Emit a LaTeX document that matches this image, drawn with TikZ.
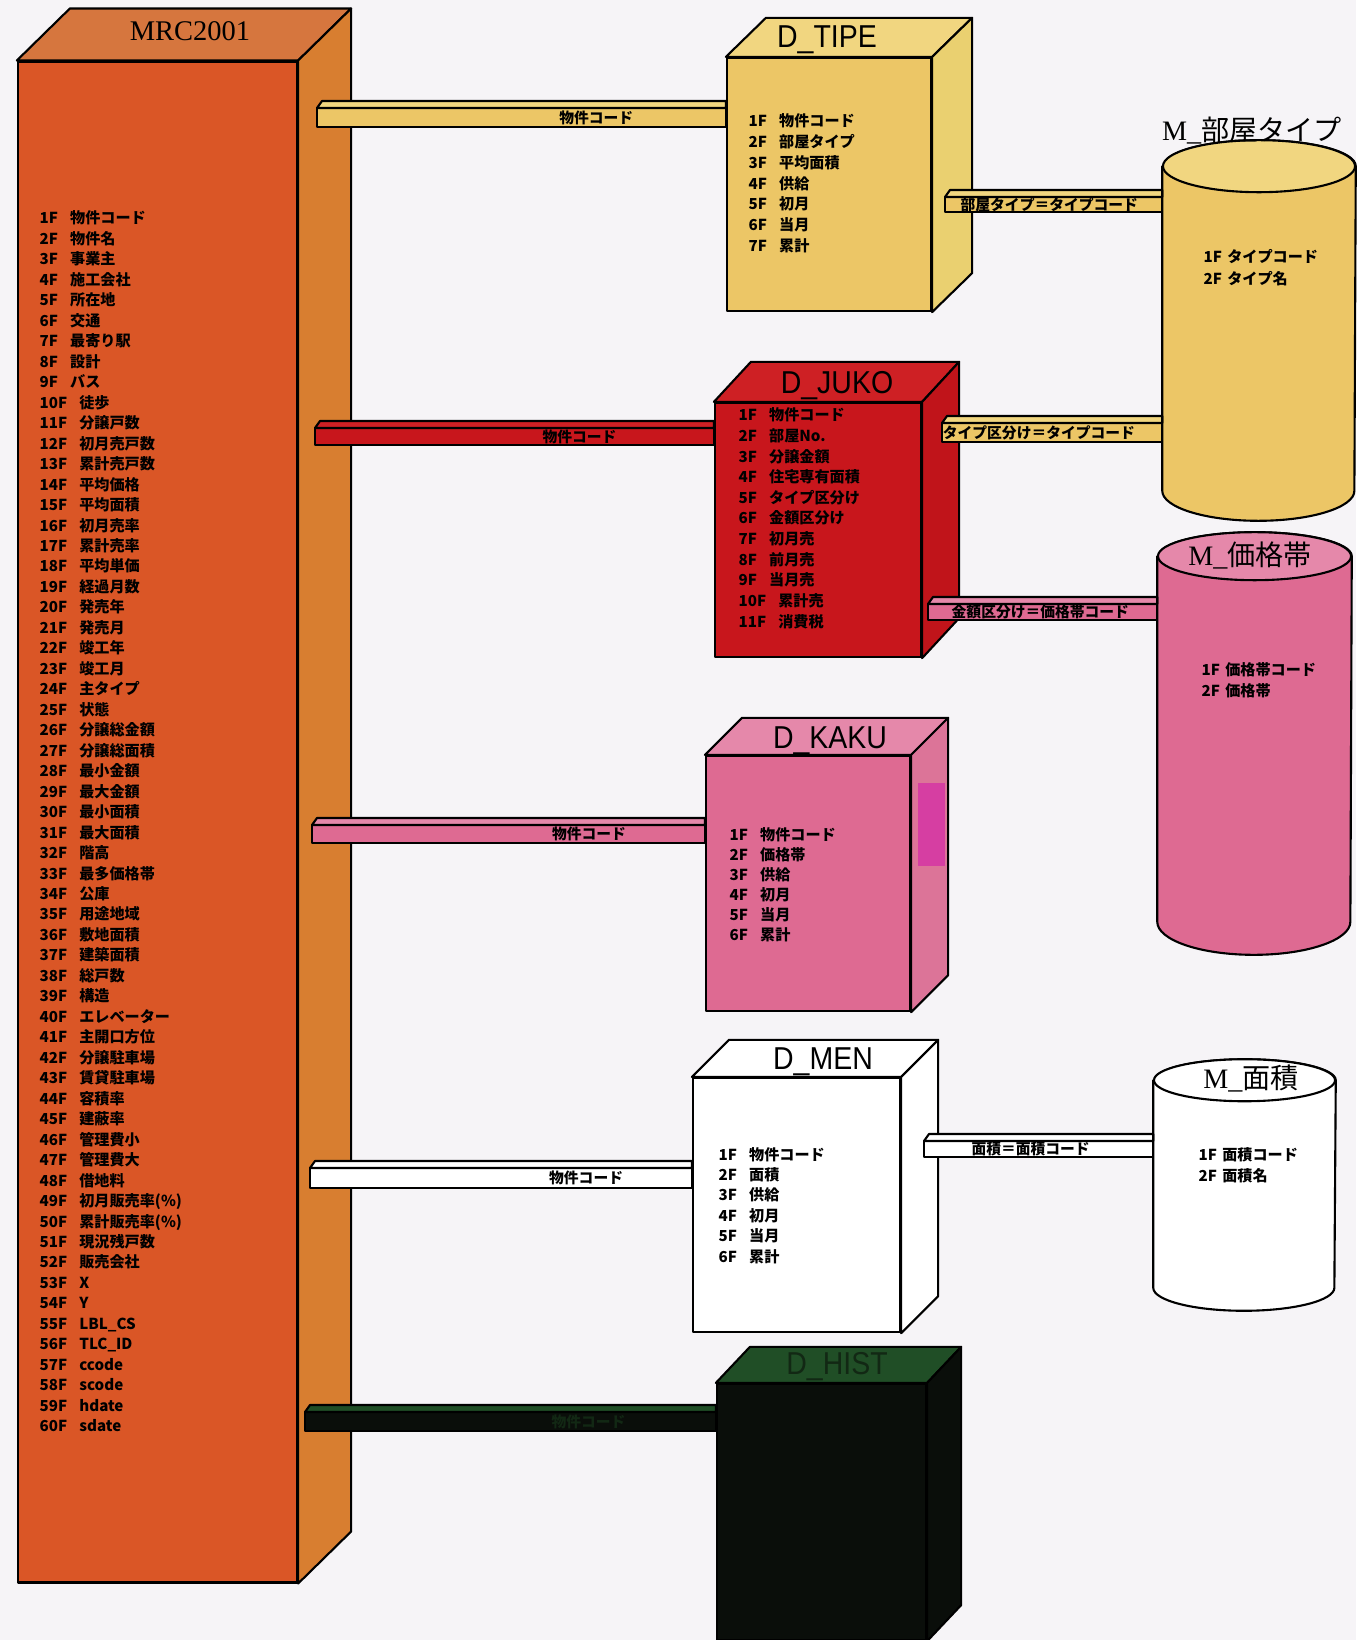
\documentclass[tikz,border=0pt]{standalone}
\usepackage{fontspec}
\usepackage{xcolor}
\usepackage{tikz}
\usetikzlibrary{calc}

\newfontfamily\jp{Noto Sans CJK JP}
\newfontfamily\titlefont[FakeStretch=0.9]{Liberation Sans}
\newfontfamily\mserif{Liberation Serif}

\definecolor{paper}{RGB}{246,244,247}
\definecolor{mrcfront}{RGB}{218,86,38}
\definecolor{mrctop}{RGB}{214,118,62}
\definecolor{mrcside}{RGB}{216,126,48}
\definecolor{tipecol}{RGB}{236,198,102}
\definecolor{tipetop}{RGB}{241,214,128}
\definecolor{tipeside}{RGB}{234,208,112}
\definecolor{jukocol}{RGB}{200,22,28}
\definecolor{jukotop}{RGB}{206,32,36}
\definecolor{jukoside}{RGB}{192,20,26}
\definecolor{kakucol}{RGB}{222,106,146}
\definecolor{kakutop}{RGB}{229,136,170}
\definecolor{kakuside}{RGB}{220,116,152}
\definecolor{kakumark}{RGB}{214,62,162}
\definecolor{histcol}{RGB}{10,14,10}
\definecolor{histtop}{RGB}{32,78,38}
\definecolor{histtext}{RGB}{18,40,20}

% top and side face of a box whose front face is the node #1
\newcommand\boxfaces[5]{%
  \draw[faceline, fill=#4] (#1.north west) -- ++(#2,#3) -- ($(#1.north east)+(#2,#3)$) -- (#1.north east) -- cycle;
  \draw[faceline, fill=#5] (#1.north east) -- ($(#1.north east)+(#2,#3)$) -- ($(#1.south east)+(#2,#3)$) -- (#1.south east) -- cycle;
}
% flat bar from coordinate #1 to the node anchor #2
\newcommand\linkbar[7]{%
  \draw[faceline, fill=#4] (#1) rectangle ($(#2 |- #1)+(0,#3)$);
  \draw[faceline, fill=#5] (#1) -- ++(5,-7) -- ($(#2 |- #1)+(0,-7)$) -- (#2 |- #1) -- cycle;
  \node[barlabel] (#1-label) at ($(#1)!#7!(#2 |- #1)+(0,#3/2)$) {#6};
}

\begin{document}
\begin{tikzpicture}[x=0.01cm, y=-0.01cm,
    faceline/.style={draw=black, line width=0.6pt, line join=round},
    dbox/.style={faceline, inner sep=0pt},
    cylbody/.style={draw=none, inner sep=0pt},
    field/.style={font=\jp\bfseries\fontsize{4.3pt}{5pt}\selectfont, inner sep=0pt, anchor=base west},
    barlabel/.style={font=\jp\bfseries\fontsize{4.2pt}{5pt}\selectfont, inner sep=0pt},
    dtitle/.style={font=\titlefont\fontsize{9pt}{10pt}\selectfont, inner sep=0pt},
    mtitle/.style={font=\mserif\fontsize{8pt}{9pt}\selectfont, inner sep=0pt}]

  \fill[paper] (0,0) rectangle (1356,1640);
  \useasboundingbox (0,0) rectangle (1356,1640);

  % Nodes
  \node[dbox, fill=mrcfront, minimum width=2.79cm, minimum height=15.2cm] (mrc) at (157.5,822) {};
  \boxfaces{mrc}{53}{-52}{mrctop}{mrcside}
  \node[mtitle, font=\mserif\fontsize{8.1pt}{9pt}\selectfont] (mrc-title) at (190,31) {MRC2001};
  \foreach \f [count=\i] in {物件コード, 物件名, 事業主, 施工会社, 所在地, 交通, 最寄り駅, 設計, バス, 徒歩,
      分譲戸数, 初月売戸数, 累計売戸数, 平均価格, 平均面積, 初月売率, 累計売率, 平均単価, 経過月数, 発売年,
      発売月, 竣工年, 竣工月, 主タイプ, 状態, 分譲総金額, 分譲総面積, 最小金額, 最大金額, 最小面積,
      最大面積, 階高, 最多価格帯, 公庫, 用途地域, 敷地面積, 建築面積, 総戸数, 構造, エレベーター,
      主開口方位, 分譲駐車場, 賃貸駐車場, 容積率, 建蔽率, 管理費小, 管理費大, 借地料, 初月販売率(\%), 累計販売率(\%),
      現況残戸数, 販売会社, X, Y, LBL\_CS, TLC\_ID, ccode, scode, hdate, sdate}
    \node[field] (mrc-f\i) at (39,{224+20.47*(\i-1)}) {\i F\hspace{0.8em}\f};

  \node[dbox, fill=tipecol, minimum width=2.04cm, minimum height=2.53cm] (tipe) at (829,184.5) {};
  \boxfaces{tipe}{40}{-39}{tipetop}{tipeside}
  \node[dtitle] (tipe-title) at (827,40) {D\_TIPE};
  \foreach \f [count=\i] in {物件コード, 部屋タイプ, 平均面積, 供給, 初月, 当月, 累計}
    \node[field] (tipe-f\i) at (748,{127+20.7*(\i-1)}) {\i F\hspace{0.8em}\f};

  \node[dbox, fill=jukocol, minimum width=2.06cm, minimum height=2.54cm] (juko) at (818,530) {};
  \boxfaces{juko}{37}{-40}{jukotop}{jukoside}
  \node[dtitle] (juko-title) at (837,386) {D\_JUKO};
  \foreach \f [count=\i] in {物件コード, 部屋No., 分譲金額, 住宅専有面積, タイプ区分け, 金額区分け, 初月売, 前月売, 当月売, 累計売, 消費税}
    \node[field] (juko-f\i) at (738,{421+20.6*(\i-1)}) {\i F\hspace{0.8em}\f};

  \node[dbox, fill=kakucol, minimum width=2.04cm, minimum height=2.55cm] (kaku) at (808,883.5) {};
  \boxfaces{kaku}{37}{-37}{kakutop}{kakuside}
  \fill[kakumark] (918,783) rectangle (945,866);
  \node[dtitle] (kaku-title) at (830,741) {D\_KAKU};
  \foreach \f [count=\i] in {物件コード, 価格帯, 供給, 初月, 当月, 累計}
    \node[field] (kaku-f\i) at (729,{840+20*(\i-1)}) {\i F\hspace{0.8em}\f};

  \node[dbox, fill=white, minimum width=2.07cm, minimum height=2.54cm] (men) at (796.5,1205) {};
  \boxfaces{men}{37}{-37}{white}{white}
  \node[dtitle] (men-title) at (823,1062) {D\_MEN};
  \foreach \f [count=\i] in {物件コード, 面積, 供給, 初月, 当月, 累計}
    \node[field] (men-f\i) at (718,{1160+20.4*(\i-1)}) {\i F\hspace{0.8em}\f};

  \node[dbox, fill=histcol, minimum width=2.09cm, minimum height=2.56cm] (hist) at (821.5,1512) {};
  \boxfaces{hist}{34}{-36}{histtop}{histcol}
  \node[dtitle, text=histtext] (hist-title) at (837,1367) {D\_HIST};

  % Masters
  \node[cylbody, minimum width=1.92cm, minimum height=3.23cm] (heya) at (1259,328.5) {};
  \draw[faceline, fill=tipecol] (heya.north west) -- (heya.south west)
    arc[start angle=180, end angle=360, x radius=0.96cm, y radius=0.30cm] -- (heya.north east)
    arc[start angle=0, end angle=180, x radius=0.96cm, y radius=0.26cm] -- cycle;
  \draw[faceline, fill=tipetop] (heya.north) ellipse[x radius=0.96cm, y radius=0.26cm];
  \node[mtitle] (heya-title) at (1252,131) {M\_{\jp 部屋タイプ}};
  \foreach \f [count=\i] in {タイプコード, タイプ名}
    \node[field] (heya-f\i) at (1203,{263+22*(\i-1)}) {\i F\hspace{0.35em}\f};

  \node[cylbody, minimum width=1.93cm, minimum height=3.64cm] (kakaku) at (1254.5,739) {};
  \draw[faceline, fill=kakucol] (kakaku.north west) -- (kakaku.south west)
    arc[start angle=180, end angle=360, x radius=0.965cm, y radius=0.33cm] -- (kakaku.north east)
    arc[start angle=0, end angle=180, x radius=0.965cm, y radius=0.24cm] -- cycle;
  \draw[faceline, fill=kakutop] (kakaku.north) ellipse[x radius=0.965cm, y radius=0.24cm];
  \node[mtitle] (kakaku-title) at (1250,555) {M\_{\jp 価格帯}};
  \foreach \f [count=\i] in {価格帯コード, 価格帯}
    \node[field] (kakaku-f\i) at (1201,{675+21*(\i-1)}) {\i F\hspace{0.35em}\f};

  \node[cylbody, minimum width=1.81cm, minimum height=2.06cm] (menseki) at (1244.5,1184) {};
  \draw[faceline, fill=white] (menseki.north west) -- (menseki.south west)
    arc[start angle=180, end angle=360, x radius=0.905cm, y radius=0.23cm] -- (menseki.north east)
    arc[start angle=0, end angle=180, x radius=0.905cm, y radius=0.21cm] -- cycle;
  \draw[faceline, fill=white] (menseki.north) ellipse[x radius=0.905cm, y radius=0.21cm];
  \node[mtitle] (menseki-title) at (1251,1078) {M\_{\jp 面積}};
  \foreach \f [count=\i] in {面積コード, 面積名}
    \node[field] (menseki-f\i) at (1198,{1160+21*(\i-1)}) {\i F\hspace{0.35em}\f};

  % Edges
  \coordinate (b-tipe) at (317,108);
  \linkbar{b-tipe}{tipe.west}{19}{tipecol}{tipetop}{物件コード}{0.683}
  \coordinate (b-juko) at (315,428);
  \linkbar{b-juko}{juko.west}{17}{jukocol}{jukotop}{物件コード}{0.663}
  \coordinate (b-kaku) at (312,825);
  \linkbar{b-kaku}{kaku.west}{18}{kakucol}{kakutop}{物件コード}{0.705}
  \coordinate (b-men) at (310,1168);
  \linkbar{b-men}{men.west}{20}{white}{white}{物件コード}{0.723}
  \coordinate (b-hist) at (305,1412);
  \linkbar{b-hist}{hist.west}{19}{histcol}{histtop}{\color{histtext}物件コード}{0.69}

  \coordinate (tipe-heya) at (945,197);
  \linkbar{tipe-heya}{heya.west}{15}{tipecol}{tipetop}{部屋タイプ＝タイプコード}{0.48}
  \coordinate (juko-heya) at (942,423);
  \linkbar{juko-heya}{heya.west}{19}{tipecol}{tipetop}{タイプ区分け＝タイプコード}{0.44}
  \coordinate (juko-kakaku) at (928,604);
  \linkbar{juko-kakaku}{kakaku.west}{16}{kakucol}{kakutop}{金額区分け＝価格帯コード}{0.49}
  \coordinate (men-menseki) at (924,1141);
  \linkbar{men-menseki}{menseki.west}{16}{white}{white}{面積＝面積コード}{0.465}
\end{tikzpicture}
\end{document}
